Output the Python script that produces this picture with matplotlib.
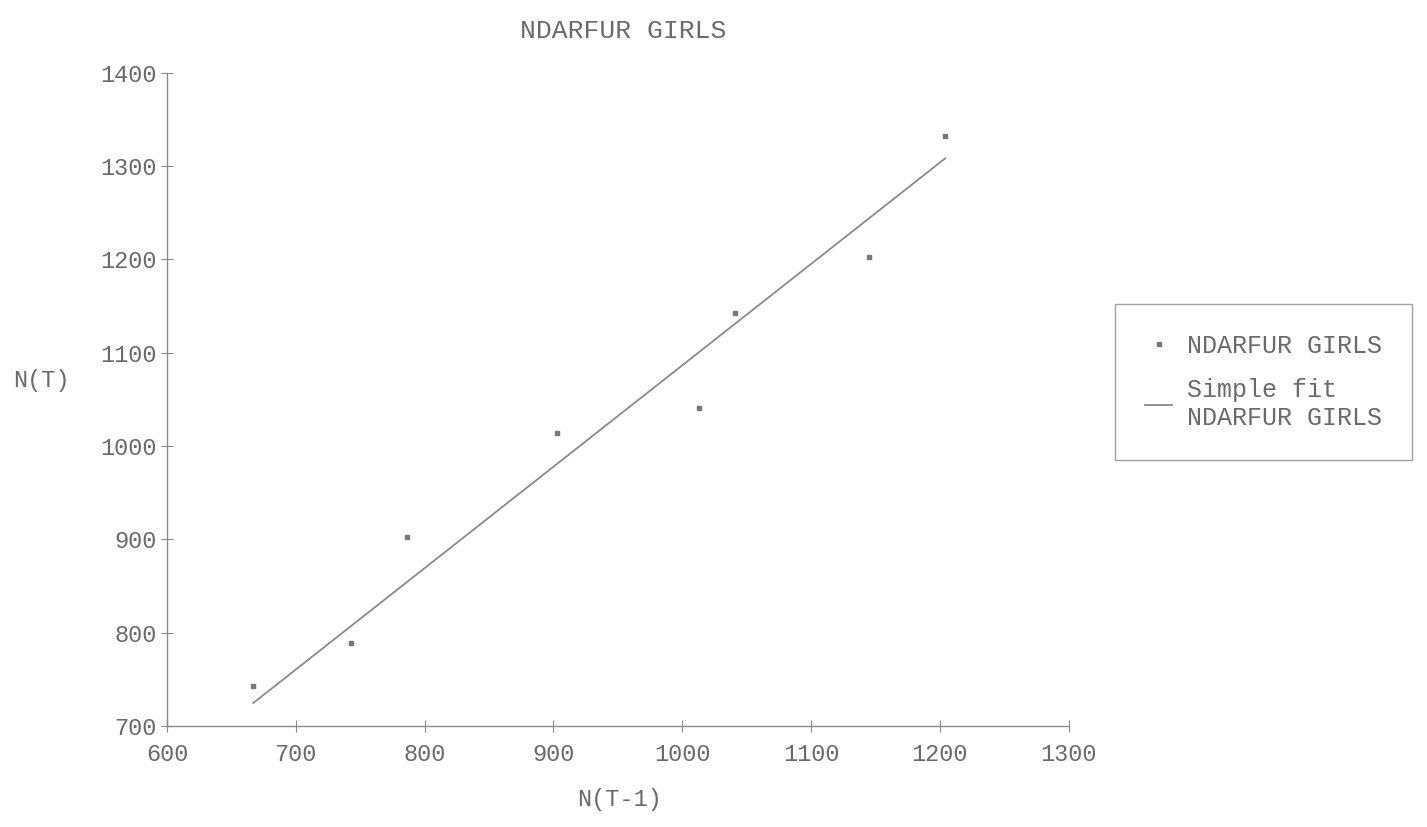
import matplotlib

matplotlib.use("Agg")
import matplotlib.pyplot as plt
import numpy as np
from matplotlib.lines import Line2D

# values
n_prev = [667, 743, 786, 903, 1013, 1041, 1145, 1204]
n_curr = [743, 789, 903, 1014, 1041, 1143, 1203, 1332]
x_ticks = [600, 700, 800, 900, 1000, 1100, 1200, 1300]
y_ticks = [700, 800, 900, 1000, 1100, 1200, 1300, 1400]
series_name = "NDARFUR GIRLS"

plt.rcParams["font.family"] = ["Liberation Mono", "DejaVu Sans Mono"]
ink = "#6a6a6a"

x = np.array(n_prev, dtype=float)
y = np.array(n_curr, dtype=float)
# simple fit through the origin
slope = np.dot(x, y) / np.dot(x, x)
fit_x = np.array([x.min(), x.max()])
fit_y = slope * fit_x

fig = plt.figure(figsize=(14.27, 8.27), dpi=100)
ax = fig.add_axes([0.117, 0.122, 0.632, 0.790])

ax.plot(x, y, linestyle="none", marker="s", markersize=2.5, color="#777777")
ax.plot(fit_x, fit_y, color="#8a8a8a", linewidth=1.3)

ax.set_xlim(600, 1300)
ax.set_ylim(700, 1400)
ax.set_xticks(x_ticks)
ax.set_yticks(y_ticks)
for s in ("top", "right"):
    ax.spines[s].set_visible(False)
for s in ("left", "bottom"):
    ax.spines[s].set_color("#8a8a8a")
    ax.spines[s].set_linewidth(1.0)
ax.tick_params(direction="inout", length=9, width=0.8, color="#8a8a8a",
               labelsize=17, labelcolor=ink)
ax.tick_params(axis="y", pad=3)
ax.tick_params(axis="x", pad=8)

fig.text(0.437, 0.962, series_name, ha="center", va="center", fontsize=19, color=ink)
fig.text(0.029, 0.54, "N(T)", ha="center", va="center", fontsize=17, color=ink)
fig.text(0.434, 0.033, "N(T-1)", ha="center", va="center", fontsize=17, color=ink)

handles = [
    Line2D([], [], linestyle="none", marker="s", markersize=2.5, color="#777777"),
    Line2D([], [], color="#8a8a8a", linewidth=1.3),
]
leg = fig.legend(handles, [series_name, "Simple fit\n" + series_name],
                 loc="center", bbox_to_anchor=(0.8855, 0.538), frameon=True,
                 fancybox=False, fontsize=18, labelcolor=ink, handlelength=1.1,
                 handletextpad=0.6, labelspacing=0.8, borderpad=1.2,
                 borderaxespad=0)
leg.get_frame().set_edgecolor("#8a8a8a")
leg.get_frame().set_linewidth(1.0)

fig.savefig("out.png", dpi=100)
